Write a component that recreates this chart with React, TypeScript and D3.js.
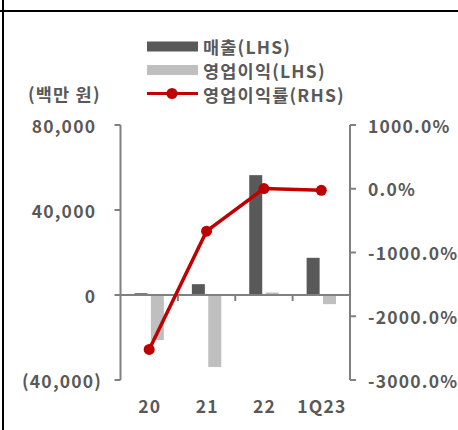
import React from "react";
import * as d3 from "d3";

// 매출 / 영업이익 (백만 원), 영업이익률 (%)
const categories = ["20", "21", "22", "1Q23"];
const sales = [840, 5100, 56400, 17500];
const operatingProfit = [-21200, -33900, 1200, -4300];
const operatingMargin = [-2520, -665, 2, -25];

const leftTicks = [80000, 40000, 0, -40000];
const rightTicks = [1000, 0, -1000, -2000, -3000];

const W = 458;
const H = 430;
const FONT = "'Noto Sans CJK KR', 'Noto Sans', sans-serif";
const FS = 17.5;
const LS = 1.2;
const TEXT = "#595959";
const AXIS = "#808080";
const DARK = "#595959";
const LIGHT = "#bfbfbf";
const RED = "#c00000";

export default function App() {
  const plotLeft = 120.5;
  const plotRight = 350;
  const plotTop = 125;
  const plotBottom = 380;

  const x = d3.scaleBand<string>().domain(categories).range([plotLeft, plotRight]).padding(0);
  const yL = d3.scaleLinear().domain([-40000, 80000]).range([plotBottom, plotTop]);
  const yR = d3.scaleLinear().domain([-3000, 1000]).range([plotBottom, plotTop]);

  const bw = x.bandwidth();
  const barW = 13;
  const gap = 3.4;
  const cx = (c: string) => (x(c) as number) + bw / 2;
  const y0 = yL(0);

  const fmtL = (v: number) => (v < 0 ? `(${d3.format(",")(-v)})` : d3.format(",")(v));
  const fmtR = (v: number) => `${v.toFixed(1)}%`;

  const line = d3
    .line<number>()
    .x((_, i) => cx(categories[i]))
    .y((v) => yR(v));

  const boundaries = categories.slice(1).map((c) => x(c) as number);

  return (
    <svg
      width={W}
      height={H}
      style={{ position: "absolute", left: 0, top: 0, background: "#fff" }}
      fontFamily={FONT}
      fontWeight={700}
      letterSpacing={LS}
    >
      {/* frame lines */}
      <line x1={3} x2={3} y1={0} y2={H} stroke="#000" strokeWidth={2} />
      <line x1={0} x2={W} y1={11} y2={11} stroke="#000" strokeWidth={2} />

      {/* legend */}
      <g fontSize={FS} fill={TEXT}>
        <rect x={147} y={41.5} width={51} height={10} fill={DARK} />
        <text x={203} y={46.5} dominantBaseline="central">매출(LHS)</text>
        <rect x={147} y={65} width={51} height={10} fill={LIGHT} />
        <text x={203} y={70} dominantBaseline="central">영업이익(LHS)</text>
        <line x1={147} x2={198} y1={93.5} y2={93.5} stroke={RED} strokeWidth={3} />
        <circle cx={172} cy={93.5} r={5.5} fill={RED} />
        <text x={203} y={94} dominantBaseline="central">영업이익률(RHS)</text>
      </g>

      {/* unit label */}
      <text x={28} y={93} fontSize={FS} fill={TEXT} dominantBaseline="central">(백만 원)</text>

      {/* bars */}
      {categories.map((c, i) => (
        <g key={c}>
          <rect
            x={cx(c) - gap / 2 - barW}
            y={Math.min(yL(sales[i]), y0)}
            width={barW}
            height={Math.abs(yL(sales[i]) - y0)}
            fill={DARK}
          />
          <rect
            x={cx(c) + gap / 2}
            y={Math.min(yL(operatingProfit[i]), y0)}
            width={barW}
            height={Math.abs(yL(operatingProfit[i]) - y0)}
            fill={LIGHT}
          />
        </g>
      ))}

      {/* axes */}
      <g stroke={AXIS} strokeWidth={2} fill="none">
        <line x1={plotLeft} x2={plotLeft} y1={plotTop} y2={plotBottom} />
        {leftTicks.map((t) => (
          <line key={t} x1={plotLeft - 6} x2={plotLeft} y1={yL(t)} y2={yL(t)} />
        ))}
        <line x1={plotRight} x2={plotRight} y1={plotTop} y2={plotBottom} />
        {rightTicks.map((t) => (
          <line key={t} x1={plotRight} x2={plotRight + 6} y1={yR(t)} y2={yR(t)} />
        ))}
        <line x1={plotLeft} x2={plotRight} y1={y0} y2={y0} />
        {boundaries.map((b) => (
          <line key={b} x1={b} x2={b} y1={y0} y2={y0 + 6} />
        ))}
      </g>

      {/* tick labels */}
      <g fontSize={FS} fill={TEXT}>
        {leftTicks.map((t) => (
          <text
            key={t}
            x={(t < 0 ? 101 : 95) + LS}
            y={yL(t)}
            textAnchor="end"
            dominantBaseline="central"
          >
            {fmtL(t)}
          </text>
        ))}
        {rightTicks.map((t) => (
          <text key={t} x={368} y={yR(t)} dominantBaseline="central">
            {fmtR(t)}
          </text>
        ))}
        {categories.map((c) => (
          <text key={c} x={cx(c) + LS / 2} y={405} textAnchor="middle" dominantBaseline="central">
            {c}
          </text>
        ))}
      </g>

      {/* operating margin line */}
      <path d={line(operatingMargin) ?? ""} fill="none" stroke={RED} strokeWidth={3.5} />
      {operatingMargin.map((v, i) => (
        <circle key={i} cx={cx(categories[i])} cy={yR(v)} r={5.5} fill={RED} />
      ))}
    </svg>
  );
}
